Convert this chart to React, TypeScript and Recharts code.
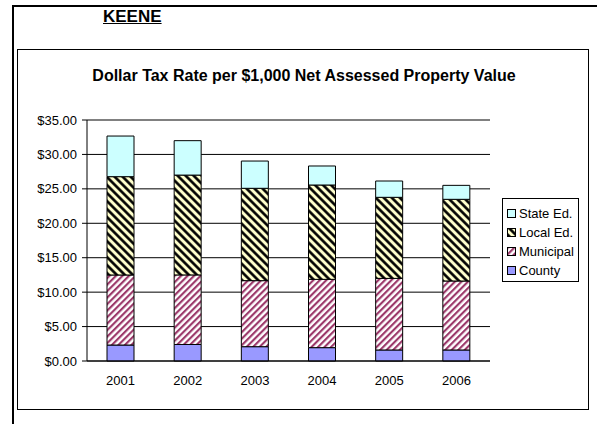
import React from "react";
import {
  BarChart,
  Bar,
  XAxis,
  YAxis,
  CartesianGrid,
  ReferenceLine,
} from "recharts";

const YEARS = ["2001", "2002", "2003", "2004", "2005", "2006"];
const COUNTY = [2.32, 2.4, 2.08, 1.94, 1.6, 1.6];
const MUNICIPAL = [10.17, 10.1, 9.59, 9.92, 10.4, 10.02];
const LOCAL_ED = [14.28, 14.5, 13.41, 13.7, 11.77, 11.86];
const STATE_ED = [5.9, 5.0, 3.96, 2.76, 2.37, 2.03];
const Y_TICKS = [0, 5, 10, 15, 20, 25, 30, 35];
const EDGE_TICKS = [0, 1, 2, 3, 4, 5, 6];

const FONT = "'Liberation Sans', Arial, sans-serif";

const SERIES = [
  { key: "County", fill: "#9999FF" },
  { key: "Municipal", fill: "url(#muniPattern)" },
  { key: "Local Ed.", fill: "url(#localPattern)" },
  { key: "State Ed.", fill: "#CCFFFF" },
];

const data = YEARS.map((year, i) => ({
  year,
  County: COUNTY[i],
  Municipal: MUNICIPAL[i],
  "Local Ed.": LOCAL_ED[i],
  "State Ed.": STATE_ED[i],
}));

const fmt = (v: number) => "$" + v.toFixed(2);

function LegendBox() {
  // legend lists the top segment first
  const items = [...SERIES].reverse();
  return (
    <div
      style={{
        position: "absolute",
        left: 502,
        top: 198,
        width: 77,
        height: 84,
        boxSizing: "border-box",
        border: "1px solid #000",
        background: "#fff",
        padding: "5px 0 0 4px",
        fontFamily: FONT,
        fontSize: 13,
        color: "#000",
      }}
    >
      {items.map((s) => (
        <div key={s.key} style={{ display: "flex", alignItems: "center", height: 19 }}>
          <svg width={9} height={9} style={{ marginRight: 3 }}>
            <rect x={0.5} y={0.5} width={8} height={8} fill={s.fill} stroke="#000" />
          </svg>
          <span>{s.key}</span>
        </div>
      ))}
    </div>
  );
}

export default function App() {
  return (
    <div
      style={{
        position: "absolute",
        left: 0,
        top: 0,
        width: 597,
        height: 424,
        background: "#fff",
        fontFamily: FONT,
        overflow: "hidden",
      }}
    >
      <div style={{ position: "absolute", left: 12, top: 5, width: 585, height: 2, background: "#000" }} />
      <div style={{ position: "absolute", left: 12, top: 5, width: 2, height: 419, background: "#000" }} />
      <div
        style={{
          position: "absolute",
          left: 103,
          top: 7,
          fontSize: 17,
          lineHeight: "19px",
          fontWeight: "bold",
          textDecoration: "underline",
        }}
      >
        KEENE
      </div>
      <div
        style={{
          position: "absolute",
          left: 17,
          top: 49,
          width: 572,
          height: 361,
          boxSizing: "border-box",
          border: "1px solid #000",
        }}
      />
      <div
        style={{
          position: "absolute",
          left: 18,
          top: 66,
          width: 572,
          textAlign: "center",
          fontSize: 16,
          lineHeight: "19px",
          fontWeight: "bold",
        }}
      >
        Dollar Tax Rate per $1,000 Net Assessed Property Value
      </div>
      <div style={{ position: "absolute", left: 0, top: 0 }}>
        <BarChart
          width={597}
          height={424}
          data={data}
          margin={{ top: 120, right: 107, bottom: 33, left: 17 }}
        >
          <defs>
            <pattern
              id="muniPattern"
              patternUnits="userSpaceOnUse"
              width={4.6}
              height={4.6}
              patternTransform="rotate(45)"
            >
              <rect width={4.6} height={4.6} fill="#fff" />
              <line x1={1.1} y1={0} x2={1.1} y2={4.6} stroke="#993366" strokeWidth={2.1} />
            </pattern>
            <pattern
              id="localPattern"
              patternUnits="userSpaceOnUse"
              width={5.66}
              height={5.66}
              patternTransform="rotate(-45)"
            >
              <rect width={5.66} height={5.66} fill="#FFFFCC" />
              <line x1={1.4} y1={0} x2={1.4} y2={5.66} stroke="#000" strokeWidth={2.6} />
            </pattern>
          </defs>
          <CartesianGrid horizontal vertical={false} stroke="#000" />
          <XAxis
            xAxisId="edges"
            type="number"
            domain={[0, 6]}
            ticks={EDGE_TICKS}
            allowDataOverflow
            height={0}
            tick={false}
            tickSize={5}
            axisLine={false}
            tickLine={{ stroke: "#000" }}
          />
          <XAxis
            dataKey="year"
            height={30}
            tickLine={false}
            tickSize={5}
            tickMargin={10}
            axisLine={{ stroke: "#000" }}
            tick={{ fill: "#000", fontSize: 13, fontFamily: FONT }}
          />
          <YAxis
            width={70}
            domain={[0, 35]}
            ticks={Y_TICKS}
            tickFormatter={fmt}
            tickSize={5}
            tickMargin={5}
            axisLine={{ stroke: "#000" }}
            tickLine={{ stroke: "#000" }}
            tick={{ fill: "#000", fontSize: 13, fontFamily: FONT }}
          />
          <ReferenceLine y={35} stroke="#808080" strokeWidth={1.5} />
          <ReferenceLine xAxisId="edges" x={6} stroke="#808080" strokeWidth={1.5} />
          {SERIES.map((s) => (
            <Bar
              key={s.key}
              dataKey={s.key}
              stackId="a"
              fill={s.fill}
              stroke="#000"
              strokeWidth={1}
              barSize={27}
              isAnimationActive={false}
            />
          ))}
        </BarChart>
      </div>
      <LegendBox />
    </div>
  );
}
